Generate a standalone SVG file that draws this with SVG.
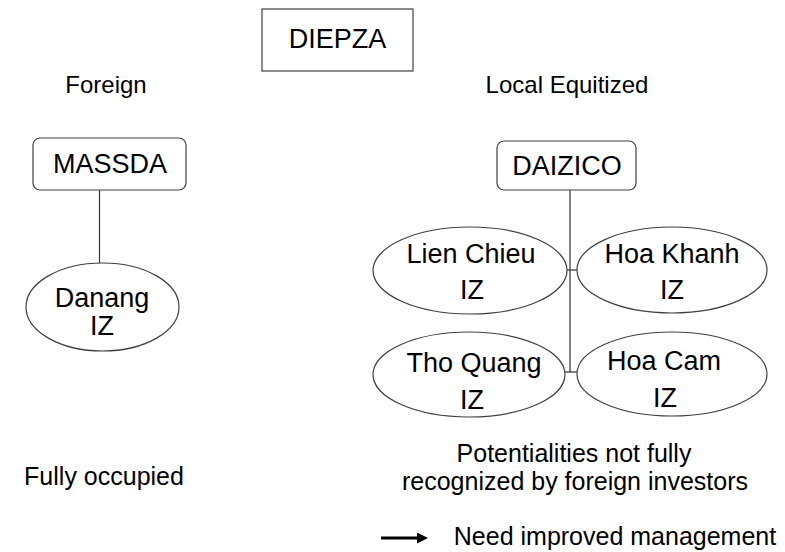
<svg xmlns="http://www.w3.org/2000/svg" width="785" height="552" viewBox="0 0 785 552">
<style>
  text { font-family: "Liberation Sans", Arial, sans-serif; fill: #000; text-anchor: middle; }
  .n { font-size: 27px; }
  .h { font-size: 24px; }
  .b { font-size: 25px; }
  .box { fill: #fff; stroke: #404040; stroke-width: 1.2; }
  .conn line { stroke: #333; stroke-width: 1.2; }
</style>
<defs>
  <marker id="ah" markerWidth="11" markerHeight="11" refX="0" refY="5.5" orient="auto" markerUnits="userSpaceOnUse">
    <path d="M0,0 L11,5.5 L0,11 Z" fill="#000"/>
  </marker>
</defs>
<rect width="785" height="552" fill="#fff"/>

<g id="connectors" class="conn">
  <line x1="99.5" y1="190" x2="99.5" y2="263"/>
  <line x1="570" y1="190" x2="570" y2="372"/>
  <line x1="566" y1="270" x2="577" y2="270"/>
  <line x1="565" y1="372" x2="577" y2="372"/>
</g>

<g id="diepza">
  <rect class="box" x="262" y="9" width="151" height="62"/>
  <text class="n" x="337.5" y="48">DIEPZA</text>
</g>

<g id="label-foreign">
  <text class="h" x="106" y="93">Foreign</text>
</g>
<g id="label-local">
  <text class="h" x="567" y="93">Local Equitized</text>
</g>

<g id="massda">
  <rect class="box" x="33" y="138" width="153" height="52" rx="7"/>
  <text class="n" x="110" y="173">MASSDA</text>
</g>

<g id="danang">
  <ellipse class="box" cx="102.5" cy="307" rx="76.5" ry="44"/>
  <text class="n" x="102" y="307">Danang</text>
  <text class="n" x="102" y="335">IZ</text>
</g>

<g id="daizico">
  <rect class="box" x="497" y="141" width="139" height="49" rx="7"/>
  <text class="n" x="567" y="175">DAIZICO</text>
</g>

<g id="lienchieu">
  <ellipse class="box" cx="470" cy="270.5" rx="97" ry="43.5"/>
  <text class="n" x="471" y="263">Lien Chieu</text>
  <text class="n" x="472" y="299">IZ</text>
</g>

<g id="hoakhanh">
  <ellipse class="box" cx="672" cy="270" rx="95" ry="43"/>
  <text class="n" x="672" y="263">Hoa Khanh</text>
  <text class="n" x="672" y="299">IZ</text>
</g>

<g id="thoquang">
  <ellipse class="box" cx="469" cy="374.5" rx="96" ry="42.5"/>
  <text class="n" x="474" y="372">Tho Quang</text>
  <text class="n" x="472" y="409">IZ</text>
</g>

<g id="hoacam">
  <ellipse class="box" cx="672" cy="374" rx="95" ry="42"/>
  <text class="n" x="664" y="370">Hoa Cam</text>
  <text class="n" x="665" y="407">IZ</text>
</g>

<g id="note-fully">
  <text class="b" x="104" y="485">Fully occupied</text>
</g>

<g id="note-potential">
  <text class="b" x="574" y="462">Potentialities not fully</text>
  <text class="b" x="575" y="490">recognized by foreign investors</text>
</g>

<g id="note-need">
  <line x1="381" y1="538" x2="417" y2="538" stroke="#000" stroke-width="3" marker-end="url(#ah)"/>
  <text class="b" x="615" y="545">Need improved management</text>
</g>
</svg>
